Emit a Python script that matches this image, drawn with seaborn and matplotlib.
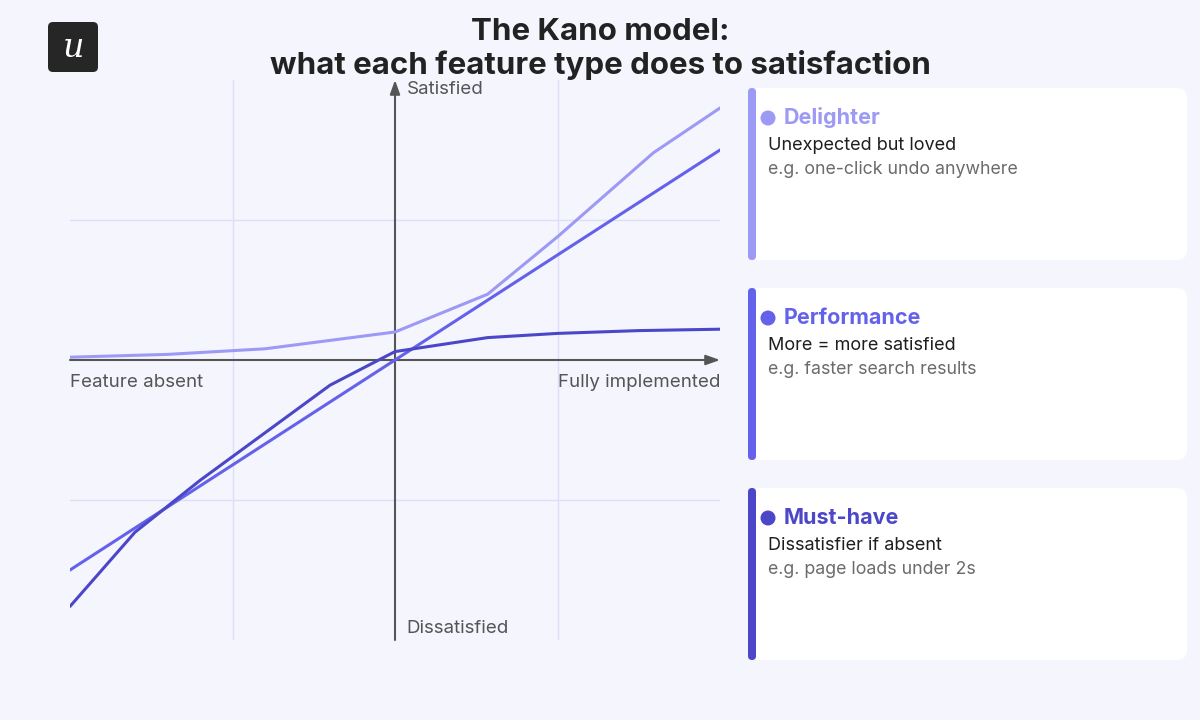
import matplotlib
matplotlib.use("Agg")
import matplotlib.pyplot as plt
from matplotlib.patches import FancyBboxPatch, Circle
import seaborn as sns
import pandas as pd

# ---------------- data ----------------
delighter_x = [-2.0, -1.4, -0.8, 0.0, 0.57, 1.0, 1.59, 2.0]
delighter_y = [0.02, 0.04, 0.08, 0.20, 0.47, 0.88, 1.48, 1.80]
performance_x = [-2.0, 2.0]
performance_y = [-1.50, 1.50]
musthave_x = [-2.0, -1.6, -1.2, -0.8, -0.4, 0.0, 0.57, 1.0, 1.5, 2.0]
musthave_y = [-1.76, -1.23, -0.86, -0.52, -0.18, 0.06, 0.16, 0.19, 0.21, 0.22]

types = ["Delighter", "Performance", "Must-have"]
descriptions = ["Unexpected but loved", "More = more satisfied", "Dissatisfier if absent"]
examples = ["e.g. one-click undo anywhere", "e.g. faster search results", "e.g. page loads under 2s"]

title = "The Kano model:\nwhat each feature type does to satisfaction"
x_left_label = "Feature absent"
x_right_label = "Fully implemented"
y_top_label = "Satisfied"
y_bottom_label = "Dissatisfied"

palette = {"Delighter": "#9d9af5", "Performance": "#6462ea", "Must-have": "#4b47c8"}

df = pd.concat([
    pd.DataFrame({"x": delighter_x, "y": delighter_y, "type": "Delighter"}),
    pd.DataFrame({"x": performance_x, "y": performance_y, "type": "Performance"}),
    pd.DataFrame({"x": musthave_x, "y": musthave_y, "type": "Must-have"}),
], ignore_index=True)

# ---------------- style ----------------
sns.set_theme(style="white")
plt.rcParams["font.family"] = ["Inter", "DejaVu Sans"]
BG = "#f5f5fe"
GRID = "#dedefa"
AX = "#555555"

fig = plt.figure(figsize=(12, 7.2), dpi=100, facecolor=BG)

# overlay in pixel coords
ov = fig.add_axes([0, 0, 1, 1])
ov.set_xlim(0, 1200)
ov.set_ylim(720, 0)
ov.axis("off")
ov.set_facecolor(BG)

# logo
ov.add_patch(FancyBboxPatch((48, 22), 50, 50, boxstyle="round,pad=0,rounding_size=5",
                            fc="#262626", ec="none"))
ov.text(73, 48, "u", color="white", fontsize=24, fontstyle="italic",
        family=["DejaVu Serif"], ha="center", va="center")

# title
ov.text(600, 49, title, ha="center", va="center", fontsize=22.5, fontweight="bold",
        color="#222222", linespacing=1.2)

# cards
card_tops = [88, 288, 488]
for i, t in enumerate(types):
    top = card_tops[i]
    col = palette[t]
    ov.add_patch(FancyBboxPatch((749, top), 438, 172, boxstyle="round,pad=0,rounding_size=10",
                                fc="white", ec="none"))
    ov.add_patch(FancyBboxPatch((748, top), 8, 172, boxstyle="round,pad=0,rounding_size=4",
                                fc=col, ec="none"))
    ov.add_patch(Circle((768, top + 30), 7.5, fc=col, ec="none"))
    ov.text(784, top + 30, t, color=col, fontsize=15.5, fontweight="bold", va="center", ha="left")
    ov.text(768, top + 57, descriptions[i], color="#1e1e1e", fontsize=13, va="center", ha="left")
    ov.text(768, top + 81, examples[i], color="#6b6b6b", fontsize=12.8, va="center", ha="left")

# chart axes
ax = fig.add_axes([70 / 1200, 80 / 720, 650 / 1200, 560 / 720])
ax.set_facecolor("none")
ax.set_xlim(-2, 2)
ax.set_ylim(-2, 2)
for s in ax.spines.values():
    s.set_visible(False)
ax.set_xticks([])
ax.set_yticks([])

for gx in [-1, 1]:
    ax.axvline(gx, color=GRID, lw=1, zorder=0)
for gy in [-1, 1]:
    ax.axhline(gy, color=GRID, lw=1, zorder=0)

# axes with arrows
ax.annotate("", xy=(2.0, 0), xytext=(-2.0, 0),
            arrowprops=dict(arrowstyle="-|>,head_length=0.7,head_width=0.25", color=AX, lw=1.5,
                            shrinkA=0, shrinkB=0), annotation_clip=False)
ax.annotate("", xy=(0, 2.0), xytext=(0, -2.0),
            arrowprops=dict(arrowstyle="-|>,head_length=0.7,head_width=0.25", color=AX, lw=1.5,
                            shrinkA=0, shrinkB=0), annotation_clip=False)

sns.lineplot(data=df, x="x", y="y", hue="type", estimator=None, sort=False,
             palette=palette, hue_order=types, lw=2.2, ax=ax, legend=False, zorder=3)
ax.set_xlabel("")
ax.set_ylabel("")

ax.text(0.07, 1.93, y_top_label, color=AX, fontsize=13.5, va="center", ha="left")
ax.text(0.07, -1.92, y_bottom_label, color=AX, fontsize=13.5, va="center", ha="left")
ax.text(-2.0, -0.16, x_left_label, color=AX, fontsize=13.5, va="center", ha="left")
ax.text(2.0, -0.16, x_right_label, color=AX, fontsize=13.5, va="center", ha="right")

fig.savefig("out.png", dpi=100, facecolor=BG)
